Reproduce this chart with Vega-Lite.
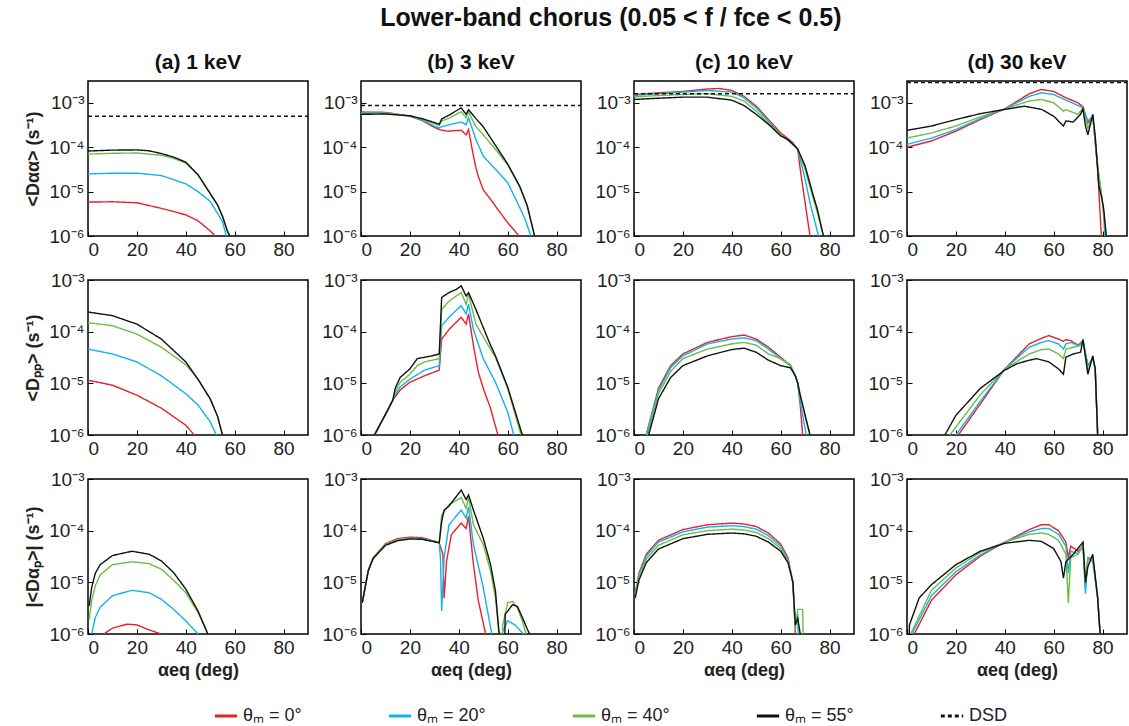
{
"$schema":"https://vega.github.io/schema/vega-lite/v6.json",
"padding":{"left":23,"top":6,"right":0,"bottom":0},
"title":{"text":"Lower-band chorus (0.05 <  f / fce <  0.5)","font":"Liberation Sans Narrow, Liberation Sans","fontSize":25,"fontWeight":"bold","anchor":"middle","offset":20,"dx":35},
"config":{
 "view":{"stroke":"#000","strokeWidth":1.5},
 "font":"Liberation Sans",
 "axis":{"grid":false,"domain":false,"tickColor":"#000","tickSize":-5,"tickWidth":1,"labelFont":"Liberation Sans","labelFontSize":19,"labelColor":"#222","labelPadding":9,"titleFont":"Liberation Sans","titleFontSize":18,"titleFontWeight":"bold","titleColor":"#222"},
 "title":{"font":"Liberation Sans Narrow, Liberation Sans","fontSize":21,"fontWeight":"bold","color":"#111","offset":8}
},
"datasets":{
"a1":[
{"s":"0","x":0,"y":5.8e-6},{"s":"0","x":10,"y":5.9e-6},{"s":"0","x":20,"y":5.6e-6},{"s":"0","x":30,"y":4.2e-6},{"s":"0","x":40,"y":3e-6},{"s":"0","x":45,"y":2.2e-6},{"s":"0","x":50,"y":1.3e-6},{"s":"0","x":52,"y":1e-6},{"s":"0","x":53,"y":1e-7},
{"s":"20","x":0,"y":2.5e-5},{"s":"20","x":10,"y":2.6e-5},{"s":"20","x":20,"y":2.6e-5},{"s":"20","x":30,"y":2.3e-5},{"s":"20","x":40,"y":1.5e-5},{"s":"20","x":45,"y":1e-5},{"s":"20","x":50,"y":6e-6},{"s":"20","x":52.5,"y":3.6e-6},{"s":"20","x":55,"y":2.1e-6},{"s":"20","x":56.6,"y":1e-6},{"s":"20","x":57.5,"y":1e-7},
{"s":"40","x":0,"y":7e-5},{"s":"40","x":10,"y":7.3e-5},{"s":"40","x":20,"y":7.4e-5},{"s":"40","x":30,"y":6.6e-5},{"s":"40","x":35,"y":5.6e-5},{"s":"40","x":40,"y":4.4e-5},{"s":"40","x":45,"y":2.4e-5},{"s":"40","x":50,"y":9e-6},{"s":"40","x":53,"y":5e-6},{"s":"40","x":55,"y":2.8e-6},{"s":"40","x":57,"y":1.3e-6},{"s":"40","x":58,"y":1e-6},{"s":"40","x":58.5,"y":1e-7},
{"s":"55","x":0,"y":8.2e-5},{"s":"55","x":10,"y":8.6e-5},{"s":"55","x":20,"y":8.7e-5},{"s":"55","x":25,"y":8.3e-5},{"s":"55","x":30,"y":7.2e-5},{"s":"55","x":35,"y":6e-5},{"s":"55","x":40,"y":4.6e-5},{"s":"55","x":45,"y":2.4e-5},{"s":"55","x":50,"y":9e-6},{"s":"55","x":53,"y":5e-6},{"s":"55","x":55,"y":2.8e-6},{"s":"55","x":57,"y":1.3e-6},{"s":"55","x":58,"y":1e-6},{"s":"55","x":58.5,"y":1e-7},
{"s":"D","x":0,"y":5e-4},{"s":"D","x":90,"y":5e-4}],
"b1":[
{"s":"0","x":0,"y":6.2e-4},{"s":"0","x":10,"y":6.1e-4},{"s":"0","x":20,"y":5e-4},{"s":"0","x":25,"y":4e-4},{"s":"0","x":30,"y":2.8e-4},{"s":"0","x":32,"y":2.5e-4},{"s":"0","x":35,"y":2.3e-4},{"s":"0","x":41,"y":2.4e-4},{"s":"0","x":43,"y":1.9e-4},{"s":"0","x":44,"y":2.5e-4},{"s":"0","x":46,"y":6.3e-5},{"s":"0","x":47,"y":3.5e-5},{"s":"0","x":48,"y":2.2e-5},{"s":"0","x":50,"y":1.1e-5},{"s":"0","x":53,"y":6.7e-6},{"s":"0","x":55,"y":4.7e-6},{"s":"0","x":58,"y":2.8e-6},{"s":"0","x":60,"y":2e-6},{"s":"0","x":63,"y":1.3e-6},{"s":"0","x":64.5,"y":1e-6},{"s":"0","x":65.5,"y":1e-7},
{"s":"20","x":0,"y":5.9e-4},{"s":"20","x":10,"y":5.9e-4},{"s":"20","x":20,"y":5e-4},{"s":"20","x":25,"y":4.1e-4},{"s":"20","x":30,"y":3e-4},{"s":"20","x":32,"y":2.7e-4},{"s":"20","x":33,"y":2.9e-4},{"s":"20","x":36,"y":3.2e-4},{"s":"20","x":41,"y":3.7e-4},{"s":"20","x":43,"y":3.2e-4},{"s":"20","x":44,"y":4.6e-4},{"s":"20","x":47,"y":1.5e-4},{"s":"20","x":50,"y":6.3e-5},{"s":"20","x":55,"y":3.2e-5},{"s":"20","x":60,"y":1.6e-5},{"s":"20","x":64,"y":5.6e-6},{"s":"20","x":67,"y":2.5e-6},{"s":"20","x":69.5,"y":1e-6},{"s":"20","x":70.5,"y":1e-7},
{"s":"40","x":0,"y":5.7e-4},{"s":"40","x":10,"y":5.8e-4},{"s":"40","x":20,"y":5.1e-4},{"s":"40","x":25,"y":4.3e-4},{"s":"40","x":30,"y":3.4e-4},{"s":"40","x":32,"y":3.1e-4},{"s":"40","x":33,"y":3.9e-4},{"s":"40","x":36,"y":4.5e-4},{"s":"40","x":41,"y":6.3e-4},{"s":"40","x":43,"y":4.6e-4},{"s":"40","x":44,"y":6.2e-4},{"s":"40","x":47,"y":2.9e-4},{"s":"40","x":50,"y":1.9e-4},{"s":"40","x":55,"y":9e-5},{"s":"40","x":60,"y":4e-5},{"s":"40","x":65,"y":1.25e-5},{"s":"40","x":68,"y":4.8e-6},{"s":"40","x":70,"y":1.7e-6},{"s":"40","x":71,"y":1e-6},{"s":"40","x":71.5,"y":1e-7},
{"s":"55","x":0,"y":5.5e-4},{"s":"55","x":10,"y":5.6e-4},{"s":"55","x":20,"y":5.1e-4},{"s":"55","x":25,"y":4.4e-4},{"s":"55","x":30,"y":3.6e-4},{"s":"55","x":32,"y":3.3e-4},{"s":"55","x":33,"y":4.3e-4},{"s":"55","x":36,"y":5.3e-4},{"s":"55","x":41,"y":7.7e-4},{"s":"55","x":43,"y":5.5e-4},{"s":"55","x":44,"y":7e-4},{"s":"55","x":47,"y":4.4e-4},{"s":"55","x":50,"y":2.9e-4},{"s":"55","x":55,"y":1.1e-4},{"s":"55","x":60,"y":4.2e-5},{"s":"55","x":65,"y":1.3e-5},{"s":"55","x":68,"y":4.8e-6},{"s":"55","x":70,"y":1.7e-6},{"s":"55","x":71,"y":1e-6},{"s":"55","x":71.5,"y":1e-7},
{"s":"D","x":0,"y":8.7e-4},{"s":"D","x":90,"y":8.7e-4}],
"c1":[
{"s":"0","x":0,"y":1.54e-3},{"s":"0","x":10,"y":1.68e-3},{"s":"0","x":20,"y":1.8e-3},{"s":"0","x":30,"y":2.05e-3},{"s":"0","x":35,"y":2.1e-3},{"s":"0","x":40,"y":1.9e-3},{"s":"0","x":45,"y":1.4e-3},{"s":"0","x":50,"y":8.4e-4},{"s":"0","x":55,"y":4.2e-4},{"s":"0","x":60,"y":2.1e-4},{"s":"0","x":65,"y":1.26e-4},{"s":"0","x":67,"y":9e-5},{"s":"0","x":68,"y":3.2e-5},{"s":"0","x":70,"y":5.6e-6},{"s":"0","x":72,"y":1e-6},{"s":"0","x":73,"y":1e-7},
{"s":"20","x":0,"y":1.46e-3},{"s":"20","x":10,"y":1.6e-3},{"s":"20","x":20,"y":1.74e-3},{"s":"20","x":30,"y":1.9e-3},{"s":"20","x":40,"y":1.74e-3},{"s":"20","x":45,"y":1.3e-3},{"s":"20","x":50,"y":7.7e-4},{"s":"20","x":55,"y":3.9e-4},{"s":"20","x":60,"y":1.9e-4},{"s":"20","x":65,"y":1.16e-4},{"s":"20","x":67,"y":9e-5},{"s":"20","x":70,"y":1.9e-5},{"s":"20","x":72,"y":5.6e-6},{"s":"20","x":75.5,"y":1e-6},{"s":"20","x":76.5,"y":1e-7},
{"s":"40","x":0,"y":1.36e-3},{"s":"40","x":10,"y":1.46e-3},{"s":"40","x":20,"y":1.54e-3},{"s":"40","x":30,"y":1.6e-3},{"s":"40","x":40,"y":1.4e-3},{"s":"40","x":45,"y":1.1e-3},{"s":"40","x":50,"y":6.5e-4},{"s":"40","x":55,"y":3.5e-4},{"s":"40","x":60,"y":1.9e-4},{"s":"40","x":65,"y":1.2e-4},{"s":"40","x":67,"y":9e-5},{"s":"40","x":70,"y":3.2e-5},{"s":"40","x":73,"y":8e-6},{"s":"40","x":75,"y":3.4e-6},{"s":"40","x":77.5,"y":1e-6},{"s":"40","x":78.5,"y":1e-7},
{"s":"55","x":0,"y":1.19e-3},{"s":"55","x":10,"y":1.27e-3},{"s":"55","x":20,"y":1.34e-3},{"s":"55","x":30,"y":1.34e-3},{"s":"55","x":40,"y":1.15e-3},{"s":"55","x":45,"y":8.7e-4},{"s":"55","x":50,"y":5.5e-4},{"s":"55","x":55,"y":3.3e-4},{"s":"55","x":60,"y":1.8e-4},{"s":"55","x":63,"y":1.5e-4},{"s":"55","x":65,"y":1.16e-4},{"s":"55","x":67,"y":9e-5},{"s":"55","x":70,"y":3.8e-5},{"s":"55","x":73,"y":9.5e-6},{"s":"55","x":75,"y":4e-6},{"s":"55","x":77.5,"y":1e-6},{"s":"55","x":78.5,"y":1e-7},
{"s":"D","x":0,"y":1.6e-3},{"s":"D","x":90,"y":1.6e-3}],
"d1":[
{"s":"0","x":0,"y":1e-4},{"s":"0","x":10,"y":1.38e-4},{"s":"0","x":20,"y":2.3e-4},{"s":"0","x":30,"y":4.2e-4},{"s":"0","x":40,"y":7.3e-4},{"s":"0","x":50,"y":1.6e-3},{"s":"0","x":55,"y":2e-3},{"s":"0","x":60,"y":1.8e-3},{"s":"0","x":65,"y":1.3e-3},{"s":"0","x":70,"y":1e-3},{"s":"0","x":72,"y":8.1e-4},{"s":"0","x":74,"y":3.5e-4},{"s":"0","x":76,"y":5e-4},{"s":"0","x":78,"y":3.2e-5},{"s":"0","x":79.5,"y":1e-6},{"s":"0","x":80,"y":1e-7},
{"s":"20","x":0,"y":1.16e-4},{"s":"20","x":10,"y":1.6e-4},{"s":"20","x":20,"y":2.5e-4},{"s":"20","x":30,"y":4.4e-4},{"s":"20","x":40,"y":7.3e-4},{"s":"20","x":50,"y":1.4e-3},{"s":"20","x":55,"y":1.68e-3},{"s":"20","x":60,"y":1.54e-3},{"s":"20","x":65,"y":1.15e-3},{"s":"20","x":70,"y":8.7e-4},{"s":"20","x":72,"y":7.7e-4},{"s":"20","x":74,"y":3.9e-4},{"s":"20","x":76,"y":5e-4},{"s":"20","x":78,"y":3.8e-5},{"s":"20","x":80,"y":5.6e-6},{"s":"20","x":81,"y":1e-6},{"s":"20","x":81.5,"y":1e-7},
{"s":"40","x":0,"y":1.6e-4},{"s":"40","x":10,"y":2.1e-4},{"s":"40","x":20,"y":3e-4},{"s":"40","x":30,"y":4.8e-4},{"s":"40","x":40,"y":7.3e-4},{"s":"40","x":50,"y":1.1e-3},{"s":"40","x":55,"y":1.19e-3},{"s":"40","x":60,"y":1e-3},{"s":"40","x":64,"y":6.5e-4},{"s":"40","x":65,"y":7e-4},{"s":"40","x":70,"y":5.5e-4},{"s":"40","x":72,"y":7.7e-4},{"s":"40","x":74,"y":2.7e-4},{"s":"40","x":76,"y":5e-4},{"s":"40","x":78,"y":3.8e-5},{"s":"40","x":80,"y":5.6e-6},{"s":"40","x":81.5,"y":1e-6},{"s":"40","x":82,"y":1e-7},
{"s":"55","x":0,"y":2.4e-4},{"s":"55","x":10,"y":3e-4},{"s":"55","x":20,"y":4.2e-4},{"s":"55","x":30,"y":5.7e-4},{"s":"55","x":40,"y":7.1e-4},{"s":"55","x":48,"y":8.4e-4},{"s":"55","x":55,"y":7.1e-4},{"s":"55","x":60,"y":5e-4},{"s":"55","x":64,"y":3e-4},{"s":"55","x":65,"y":3.9e-4},{"s":"55","x":68,"y":3.7e-4},{"s":"55","x":71,"y":5.5e-4},{"s":"55","x":72,"y":7.3e-4},{"s":"55","x":73,"y":3e-4},{"s":"55","x":74,"y":1.9e-4},{"s":"55","x":76,"y":5.5e-4},{"s":"55","x":77,"y":1.8e-4},{"s":"55","x":78.5,"y":1.3e-5},{"s":"55","x":79.5,"y":8e-6},{"s":"55","x":80.5,"y":4e-6},{"s":"55","x":81.5,"y":1e-6},{"s":"55","x":82,"y":1e-7},
{"s":"D","x":0,"y":2.85e-3},{"s":"D","x":90,"y":2.85e-3}],
"a2":[
{"s":"0","x":0,"y":1.15e-5},{"s":"0","x":10,"y":9.2e-6},{"s":"0","x":20,"y":5.9e-6},{"s":"0","x":30,"y":3.3e-6},{"s":"0","x":40,"y":1.55e-6},{"s":"0","x":43.5,"y":1e-6},{"s":"0","x":44.5,"y":1e-7},
{"s":"20","x":0,"y":4.6e-5},{"s":"20","x":10,"y":3.7e-5},{"s":"20","x":20,"y":2.6e-5},{"s":"20","x":30,"y":1.4e-5},{"s":"20","x":40,"y":6.3e-6},{"s":"20","x":45,"y":3.8e-6},{"s":"20","x":50,"y":1.8e-6},{"s":"20","x":52.5,"y":1e-6},{"s":"20","x":53.2,"y":1e-7},
{"s":"40","x":0,"y":1.5e-4},{"s":"40","x":10,"y":1.3e-4},{"s":"40","x":20,"y":9e-5},{"s":"40","x":30,"y":5e-5},{"s":"40","x":40,"y":2.3e-5},{"s":"40","x":45,"y":1.2e-5},{"s":"40","x":50,"y":5e-6},{"s":"40","x":53,"y":2.3e-6},{"s":"40","x":55,"y":1e-6},{"s":"40","x":55.5,"y":1e-7},
{"s":"55","x":0,"y":2.4e-4},{"s":"55","x":10,"y":2.04e-4},{"s":"55","x":20,"y":1.4e-4},{"s":"55","x":30,"y":7.2e-5},{"s":"55","x":40,"y":2.6e-5},{"s":"55","x":45,"y":1.2e-5},{"s":"55","x":50,"y":5e-6},{"s":"55","x":53,"y":2.3e-6},{"s":"55","x":55,"y":1e-6},{"s":"55","x":55.5,"y":1e-7}],
"b2":[
{"s":"0","x":5,"y":1e-7},{"s":"0","x":5.5,"y":1e-6},{"s":"0","x":10,"y":2.5e-6},{"s":"0","x":13,"y":4.7e-6},{"s":"0","x":14,"y":5.5e-6},{"s":"0","x":16,"y":7.4e-6},{"s":"0","x":20,"y":1.05e-5},{"s":"0","x":26,"y":1.4e-5},{"s":"0","x":32,"y":1.8e-5},{"s":"0","x":33,"y":7.2e-5},{"s":"0","x":36,"y":1.1e-4},{"s":"0","x":41,"y":1.9e-4},{"s":"0","x":43,"y":1.4e-4},{"s":"0","x":44,"y":2.2e-4},{"s":"0","x":46,"y":5.4e-5},{"s":"0","x":48,"y":1.65e-5},{"s":"0","x":50,"y":8e-6},{"s":"0","x":53,"y":3.3e-6},{"s":"0","x":56,"y":1e-6},{"s":"0","x":56.5,"y":1e-7},
{"s":"20","x":5,"y":1e-7},{"s":"20","x":5.5,"y":1e-6},{"s":"20","x":10,"y":2.5e-6},{"s":"20","x":13,"y":4.7e-6},{"s":"20","x":14,"y":6e-6},{"s":"20","x":16,"y":8.5e-6},{"s":"20","x":20,"y":1.2e-5},{"s":"20","x":26,"y":1.8e-5},{"s":"20","x":32,"y":2.2e-5},{"s":"20","x":33,"y":1.3e-4},{"s":"20","x":36,"y":1.9e-4},{"s":"20","x":41,"y":3.2e-4},{"s":"20","x":43,"y":2.2e-4},{"s":"20","x":44,"y":3.4e-4},{"s":"20","x":46,"y":1.1e-4},{"s":"20","x":50,"y":3e-5},{"s":"20","x":55,"y":1.05e-5},{"s":"20","x":60,"y":2.8e-6},{"s":"20","x":62.5,"y":1e-6},{"s":"20","x":63,"y":1e-7},
{"s":"40","x":5,"y":1e-7},{"s":"40","x":5.5,"y":1e-6},{"s":"40","x":10,"y":2.5e-6},{"s":"40","x":13,"y":4.7e-6},{"s":"40","x":14,"y":6.8e-6},{"s":"40","x":16,"y":1.05e-5},{"s":"40","x":20,"y":1.5e-5},{"s":"40","x":23,"y":2.2e-5},{"s":"40","x":26,"y":2.6e-5},{"s":"40","x":29,"y":2.8e-5},{"s":"40","x":32,"y":3e-5},{"s":"40","x":33,"y":2.7e-4},{"s":"40","x":36,"y":3.9e-4},{"s":"40","x":41,"y":5.7e-4},{"s":"40","x":43,"y":3.4e-4},{"s":"40","x":44,"y":5.3e-4},{"s":"40","x":47,"y":1.4e-4},{"s":"40","x":52.5,"y":5e-5},{"s":"40","x":55,"y":3.2e-5},{"s":"40","x":60,"y":8e-6},{"s":"40","x":65,"y":1.2e-6},{"s":"40","x":65.5,"y":1e-6},{"s":"40","x":66,"y":1e-7},
{"s":"55","x":5,"y":1e-7},{"s":"55","x":5.5,"y":1e-6},{"s":"55","x":10,"y":2.5e-6},{"s":"55","x":13,"y":4.7e-6},{"s":"55","x":14,"y":8e-6},{"s":"55","x":16,"y":1.3e-5},{"s":"55","x":20,"y":1.9e-5},{"s":"55","x":23,"y":3e-5},{"s":"55","x":26,"y":3.2e-5},{"s":"55","x":29,"y":3.4e-5},{"s":"55","x":32,"y":3.7e-5},{"s":"55","x":33,"y":4.6e-4},{"s":"55","x":36,"y":5.7e-4},{"s":"55","x":39,"y":6.6e-4},{"s":"55","x":41,"y":7.7e-4},{"s":"55","x":43,"y":4.9e-4},{"s":"55","x":44,"y":5.7e-4},{"s":"55","x":47,"y":2.7e-4},{"s":"55","x":52.5,"y":6.2e-5},{"s":"55","x":55,"y":3.4e-5},{"s":"55","x":60,"y":8.5e-6},{"s":"55","x":66,"y":1e-6},{"s":"55","x":66.5,"y":1e-7}],
"c2":[
{"s":"0","x":4.5,"y":1e-7},{"s":"0","x":5,"y":1e-6},{"s":"0","x":10,"y":8e-6},{"s":"0","x":15,"y":2.2e-5},{"s":"0","x":20,"y":3.7e-5},{"s":"0","x":30,"y":6.2e-5},{"s":"0","x":40,"y":8e-5},{"s":"0","x":45,"y":8.6e-5},{"s":"0","x":50,"y":7.2e-5},{"s":"0","x":55,"y":5e-5},{"s":"0","x":60,"y":3.2e-5},{"s":"0","x":64,"y":2.2e-5},{"s":"0","x":66,"y":1.4e-5},{"s":"0","x":67,"y":1e-5},{"s":"0","x":68,"y":3.8e-6},{"s":"0","x":69,"y":1e-6},{"s":"0","x":69.5,"y":1e-7},
{"s":"20","x":4.5,"y":1e-7},{"s":"20","x":5,"y":1e-6},{"s":"20","x":10,"y":7.3e-6},{"s":"20","x":15,"y":2e-5},{"s":"20","x":20,"y":3.4e-5},{"s":"20","x":30,"y":5.8e-5},{"s":"20","x":40,"y":7.2e-5},{"s":"20","x":45,"y":7.6e-5},{"s":"20","x":50,"y":6.7e-5},{"s":"20","x":55,"y":4.6e-5},{"s":"20","x":60,"y":3e-5},{"s":"20","x":64,"y":2.2e-5},{"s":"20","x":66,"y":1.4e-5},{"s":"20","x":67,"y":1e-5},{"s":"20","x":68,"y":4.4e-6},{"s":"20","x":70.5,"y":1e-6},{"s":"20","x":71,"y":1e-7},
{"s":"40","x":5,"y":1e-7},{"s":"40","x":5.5,"y":1e-6},{"s":"40","x":10,"y":6.3e-6},{"s":"40","x":15,"y":1.7e-5},{"s":"40","x":20,"y":3e-5},{"s":"40","x":30,"y":4.6e-5},{"s":"40","x":40,"y":5.8e-5},{"s":"40","x":45,"y":6.2e-5},{"s":"40","x":50,"y":5.5e-5},{"s":"40","x":55,"y":3.7e-5},{"s":"40","x":60,"y":3e-5},{"s":"40","x":64,"y":2.3e-5},{"s":"40","x":66,"y":1.4e-5},{"s":"40","x":67,"y":1e-5},{"s":"40","x":68,"y":5.9e-6},{"s":"40","x":70,"y":2.4e-6},{"s":"40","x":72,"y":1e-6},{"s":"40","x":72.5,"y":1e-7},
{"s":"55","x":5.5,"y":1e-7},{"s":"55","x":6,"y":1e-6},{"s":"55","x":10,"y":5e-6},{"s":"55","x":15,"y":1.3e-5},{"s":"55","x":20,"y":2.2e-5},{"s":"55","x":30,"y":3.4e-5},{"s":"55","x":40,"y":4.5e-5},{"s":"55","x":45,"y":4.8e-5},{"s":"55","x":50,"y":4e-5},{"s":"55","x":55,"y":2.8e-5},{"s":"55","x":60,"y":2.2e-5},{"s":"55","x":64,"y":2e-5},{"s":"55","x":66,"y":1.4e-5},{"s":"55","x":67,"y":1e-5},{"s":"55","x":68,"y":5.9e-6},{"s":"55","x":70,"y":2.4e-6},{"s":"55","x":72,"y":1e-6},{"s":"55","x":72.5,"y":1e-7}],
"d2":[
{"s":"0","x":20.5,"y":1e-7},{"s":"0","x":21,"y":1e-6},{"s":"0","x":30,"y":4e-6},{"s":"0","x":40,"y":1.9e-5},{"s":"0","x":50,"y":5.8e-5},{"s":"0","x":55,"y":7.4e-5},{"s":"0","x":58,"y":8.4e-5},{"s":"0","x":62,"y":7.2e-5},{"s":"0","x":64,"y":6.5e-5},{"s":"0","x":65,"y":7e-5},{"s":"0","x":67,"y":6.7e-5},{"s":"0","x":70,"y":5.5e-5},{"s":"0","x":72,"y":6.7e-5},{"s":"0","x":74,"y":2.2e-5},{"s":"0","x":76,"y":3.1e-5},{"s":"0","x":77,"y":1.9e-5},{"s":"0","x":78,"y":1e-6},{"s":"0","x":78.3,"y":1e-7},
{"s":"20","x":19.5,"y":1e-7},{"s":"20","x":20,"y":1e-6},{"s":"20","x":30,"y":4.5e-6},{"s":"20","x":40,"y":1.9e-5},{"s":"20","x":50,"y":5e-5},{"s":"20","x":55,"y":6.2e-5},{"s":"20","x":58,"y":6.7e-5},{"s":"20","x":62,"y":5.8e-5},{"s":"20","x":64,"y":4.6e-5},{"s":"20","x":65,"y":5.8e-5},{"s":"20","x":67,"y":6.2e-5},{"s":"20","x":70,"y":5.4e-5},{"s":"20","x":72,"y":6.7e-5},{"s":"20","x":74,"y":2.2e-5},{"s":"20","x":76,"y":3.1e-5},{"s":"20","x":77,"y":1.9e-5},{"s":"20","x":78,"y":1e-6},{"s":"20","x":78.3,"y":1e-7},
{"s":"40","x":17,"y":1e-7},{"s":"40","x":17.5,"y":1e-6},{"s":"40","x":30,"y":6e-6},{"s":"40","x":40,"y":1.9e-5},{"s":"40","x":50,"y":3.7e-5},{"s":"40","x":55,"y":4.5e-5},{"s":"40","x":58,"y":4.6e-5},{"s":"40","x":62,"y":3.7e-5},{"s":"40","x":64,"y":3e-5},{"s":"40","x":65,"y":4.6e-5},{"s":"40","x":68,"y":5e-5},{"s":"40","x":71,"y":5.4e-5},{"s":"40","x":72,"y":6.8e-5},{"s":"40","x":74,"y":1.7e-5},{"s":"40","x":76,"y":3.2e-5},{"s":"40","x":77,"y":1.9e-5},{"s":"40","x":78,"y":1e-6},{"s":"40","x":78.3,"y":1e-7},
{"s":"55","x":15,"y":1e-7},{"s":"55","x":15.5,"y":1e-6},{"s":"55","x":20,"y":2.4e-6},{"s":"55","x":30,"y":8e-6},{"s":"55","x":40,"y":1.8e-5},{"s":"55","x":45,"y":2.4e-5},{"s":"55","x":50,"y":2.8e-5},{"s":"55","x":53,"y":3e-5},{"s":"55","x":58,"y":2.6e-5},{"s":"55","x":62,"y":1.9e-5},{"s":"55","x":64,"y":1.5e-5},{"s":"55","x":65,"y":3.2e-5},{"s":"55","x":68,"y":3.7e-5},{"s":"55","x":71,"y":4e-5},{"s":"55","x":72,"y":7e-5},{"s":"55","x":74,"y":1.5e-5},{"s":"55","x":76,"y":3.4e-5},{"s":"55","x":77,"y":1.9e-5},{"s":"55","x":78,"y":1e-6},{"s":"55","x":78.3,"y":1e-7}],
"a3":[
{"s":"0","x":6,"y":1e-7},{"s":"0","x":6.5,"y":1e-6},{"s":"0","x":10,"y":1.3e-6},{"s":"0","x":16,"y":1.55e-6},{"s":"0","x":20,"y":1.5e-6},{"s":"0","x":25,"y":1.2e-6},{"s":"0","x":30,"y":1e-6},{"s":"0","x":30.5,"y":1e-7},
{"s":"20","x":1,"y":1e-7},{"s":"20","x":1.5,"y":1e-6},{"s":"20","x":3,"y":2.1e-6},{"s":"20","x":5,"y":3.3e-6},{"s":"20","x":10,"y":5.5e-6},{"s":"20","x":18,"y":7e-6},{"s":"20","x":25,"y":6.3e-6},{"s":"20","x":30,"y":4.7e-6},{"s":"20","x":35,"y":3e-6},{"s":"20","x":40,"y":1.8e-6},{"s":"20","x":45,"y":1e-6},{"s":"20","x":45.5,"y":1e-7},
{"s":"40","x":0.5,"y":1.9e-6},{"s":"40","x":1.5,"y":4.4e-6},{"s":"40","x":3,"y":8.6e-6},{"s":"40","x":5,"y":1.4e-5},{"s":"40","x":10,"y":2.2e-5},{"s":"40","x":18,"y":2.5e-5},{"s":"40","x":25,"y":2.3e-5},{"s":"40","x":30,"y":1.8e-5},{"s":"40","x":35,"y":1.1e-5},{"s":"40","x":40,"y":6.3e-6},{"s":"40","x":45,"y":2.6e-6},{"s":"40","x":48,"y":1.3e-6},{"s":"40","x":49,"y":1e-6},{"s":"40","x":49.5,"y":1e-7},
{"s":"55","x":0.5,"y":3.5e-6},{"s":"55","x":1.5,"y":8e-6},{"s":"55","x":3,"y":1.5e-5},{"s":"55","x":5,"y":2.2e-5},{"s":"55","x":10,"y":3.3e-5},{"s":"55","x":18,"y":4e-5},{"s":"55","x":25,"y":3.5e-5},{"s":"55","x":30,"y":2.6e-5},{"s":"55","x":35,"y":1.55e-5},{"s":"55","x":40,"y":7.4e-6},{"s":"55","x":45,"y":2.8e-6},{"s":"55","x":48,"y":1.3e-6},{"s":"55","x":49,"y":1e-6},{"s":"55","x":49.5,"y":1e-7}],
"b3":[
{"s":"0","x":0.5,"y":4e-6},{"s":"0","x":3,"y":1.7e-5},{"s":"0","x":5,"y":3e-5},{"s":"0","x":10,"y":5.6e-5},{"s":"0","x":15,"y":7e-5},{"s":"0","x":20,"y":7.5e-5},{"s":"0","x":25,"y":7.3e-5},{"s":"0","x":30,"y":6.3e-5},{"s":"0","x":32,"y":5.8e-5},{"s":"0","x":33.5,"y":3.5e-5},{"s":"0","x":34,"y":5e-6},{"s":"0","x":35,"y":2.6e-5},{"s":"0","x":37,"y":8.4e-5},{"s":"0","x":41,"y":1.4e-4},{"s":"0","x":43,"y":1.1e-4},{"s":"0","x":44,"y":1.9e-4},{"s":"0","x":46,"y":2.2e-5},{"s":"0","x":48,"y":4.4e-6},{"s":"0","x":51,"y":1e-6},{"s":"0","x":51.5,"y":1e-7},
{"s":"20","x":0.5,"y":4e-6},{"s":"20","x":3,"y":1.7e-5},{"s":"20","x":5,"y":3e-5},{"s":"20","x":10,"y":5.4e-5},{"s":"20","x":15,"y":6.7e-5},{"s":"20","x":20,"y":7.2e-5},{"s":"20","x":25,"y":7e-5},{"s":"20","x":30,"y":6.2e-5},{"s":"20","x":32,"y":5.8e-5},{"s":"20","x":32.5,"y":3e-5},{"s":"20","x":33,"y":2.8e-6},{"s":"20","x":34,"y":3e-5},{"s":"20","x":36,"y":1.3e-4},{"s":"20","x":41,"y":2.5e-4},{"s":"20","x":43,"y":1.75e-4},{"s":"20","x":44,"y":2.9e-4},{"s":"20","x":46,"y":5.4e-5},{"s":"20","x":50,"y":8e-6},{"s":"20","x":53.5,"y":1e-6},{"s":"20","x":54,"y":1e-7},{"s":"20","x":57,"y":1e-7},{"s":"20","x":57.5,"y":1e-6},{"s":"20","x":60,"y":1.8e-6},{"s":"20","x":63,"y":1.5e-6},{"s":"20","x":66.5,"y":1e-6},{"s":"20","x":67,"y":1e-7},
{"s":"40","x":0.5,"y":4e-6},{"s":"40","x":3,"y":1.7e-5},{"s":"40","x":5,"y":3e-5},{"s":"40","x":10,"y":5.4e-5},{"s":"40","x":15,"y":6.6e-5},{"s":"40","x":20,"y":7.1e-5},{"s":"40","x":25,"y":6.9e-5},{"s":"40","x":30,"y":6.2e-5},{"s":"40","x":32,"y":5.8e-5},{"s":"40","x":33,"y":2e-4},{"s":"40","x":36,"y":3.2e-4},{"s":"40","x":41,"y":4.4e-4},{"s":"40","x":43,"y":2.7e-4},{"s":"40","x":44,"y":4.4e-4},{"s":"40","x":46,"y":1.3e-4},{"s":"40","x":50,"y":5.4e-5},{"s":"40","x":53,"y":1.65e-5},{"s":"40","x":55,"y":5e-6},{"s":"40","x":56.5,"y":1e-6},{"s":"40","x":57,"y":1e-7},{"s":"40","x":57.5,"y":1e-7},{"s":"40","x":58,"y":1.5e-6},{"s":"40","x":60,"y":4e-6},{"s":"40","x":62,"y":4.3e-6},{"s":"40","x":64,"y":3.2e-6},{"s":"40","x":66,"y":1.8e-6},{"s":"40","x":67.5,"y":1e-6},{"s":"40","x":68,"y":1e-7},
{"s":"55","x":0.5,"y":4e-6},{"s":"55","x":3,"y":1.7e-5},{"s":"55","x":5,"y":2.9e-5},{"s":"55","x":10,"y":5.2e-5},{"s":"55","x":15,"y":6.4e-5},{"s":"55","x":20,"y":6.9e-5},{"s":"55","x":25,"y":6.8e-5},{"s":"55","x":30,"y":6.1e-5},{"s":"55","x":32,"y":5.8e-5},{"s":"55","x":33,"y":1.5e-4},{"s":"55","x":34,"y":2.5e-4},{"s":"55","x":36,"y":3e-4},{"s":"55","x":41,"y":6.1e-4},{"s":"55","x":43,"y":4e-4},{"s":"55","x":44,"y":4.9e-4},{"s":"55","x":46,"y":2.5e-4},{"s":"55","x":50,"y":7.2e-5},{"s":"55","x":53,"y":2.2e-5},{"s":"55","x":55,"y":6.8e-6},{"s":"55","x":56.5,"y":1e-6},{"s":"55","x":57,"y":1e-7},{"s":"55","x":58.5,"y":1e-7},{"s":"55","x":59,"y":2.4e-6},{"s":"55","x":62,"y":3.7e-6},{"s":"55","x":64,"y":3.4e-6},{"s":"55","x":66,"y":2.1e-6},{"s":"55","x":68,"y":1.25e-6},{"s":"55","x":69,"y":1e-6},{"s":"55","x":69.5,"y":1e-7}],
"c3":[
{"s":"0","x":0.5,"y":6e-6},{"s":"0","x":2,"y":1.5e-5},{"s":"0","x":5,"y":3.5e-5},{"s":"0","x":10,"y":6.5e-5},{"s":"0","x":20,"y":1.05e-4},{"s":"0","x":30,"y":1.3e-4},{"s":"0","x":40,"y":1.4e-4},{"s":"0","x":45,"y":1.35e-4},{"s":"0","x":50,"y":1.2e-4},{"s":"0","x":55,"y":9e-5},{"s":"0","x":60,"y":5.5e-5},{"s":"0","x":63,"y":3e-5},{"s":"0","x":65,"y":1e-5},{"s":"0","x":66,"y":1e-6},{"s":"0","x":66.5,"y":1e-7},
{"s":"20","x":0.5,"y":6e-6},{"s":"20","x":2,"y":1.4e-5},{"s":"20","x":5,"y":3.2e-5},{"s":"20","x":10,"y":6e-5},{"s":"20","x":20,"y":9.5e-5},{"s":"20","x":30,"y":1.17e-4},{"s":"20","x":40,"y":1.25e-4},{"s":"20","x":45,"y":1.2e-4},{"s":"20","x":50,"y":1.07e-4},{"s":"20","x":55,"y":8e-5},{"s":"20","x":60,"y":5e-5},{"s":"20","x":63,"y":2.8e-5},{"s":"20","x":65,"y":1e-5},{"s":"20","x":66,"y":1.5e-6},{"s":"20","x":67,"y":2.5e-6},{"s":"20","x":67.5,"y":1e-7},
{"s":"40","x":0.5,"y":6e-6},{"s":"40","x":2,"y":1.3e-5},{"s":"40","x":5,"y":2.8e-5},{"s":"40","x":10,"y":5.2e-5},{"s":"40","x":20,"y":8.3e-5},{"s":"40","x":30,"y":1e-4},{"s":"40","x":40,"y":1.07e-4},{"s":"40","x":45,"y":1.03e-4},{"s":"40","x":50,"y":9.2e-5},{"s":"40","x":55,"y":7e-5},{"s":"40","x":60,"y":4.5e-5},{"s":"40","x":63,"y":2.6e-5},{"s":"40","x":65,"y":1e-5},{"s":"40","x":66,"y":1.2e-6},{"s":"40","x":67,"y":3e-6},{"s":"40","x":69,"y":3e-6},{"s":"40","x":69.5,"y":1e-7},
{"s":"55","x":0.5,"y":5e-6},{"s":"55","x":2,"y":1.1e-5},{"s":"55","x":5,"y":2.4e-5},{"s":"55","x":10,"y":4.4e-5},{"s":"55","x":20,"y":7e-5},{"s":"55","x":30,"y":8.5e-5},{"s":"55","x":40,"y":9e-5},{"s":"55","x":45,"y":8.7e-5},{"s":"55","x":50,"y":7.8e-5},{"s":"55","x":55,"y":6e-5},{"s":"55","x":60,"y":4e-5},{"s":"55","x":63,"y":2.4e-5},{"s":"55","x":65,"y":1e-5},{"s":"55","x":66,"y":1.5e-6},{"s":"55","x":67,"y":2e-6},{"s":"55","x":68,"y":1e-6},{"s":"55","x":68.5,"y":1e-7}],
"d3":[
{"s":"0","x":2.5,"y":1e-7},{"s":"0","x":3,"y":1e-6},{"s":"0","x":10,"y":4.5e-6},{"s":"0","x":20,"y":1.4e-5},{"s":"0","x":30,"y":3.2e-5},{"s":"0","x":40,"y":6e-5},{"s":"0","x":50,"y":1.05e-4},{"s":"0","x":55,"y":1.3e-4},{"s":"0","x":58,"y":1.3e-4},{"s":"0","x":62,"y":1e-4},{"s":"0","x":65,"y":6e-5},{"s":"0","x":66,"y":3e-5},{"s":"0","x":67,"y":5e-5},{"s":"0","x":70,"y":4e-5},{"s":"0","x":72,"y":5e-5},{"s":"0","x":73,"y":8e-6},{"s":"0","x":74,"y":3e-5},{"s":"0","x":76,"y":3e-5},{"s":"0","x":78,"y":5e-6},{"s":"0","x":79,"y":1e-6},{"s":"0","x":79.5,"y":1e-7},
{"s":"20","x":1.5,"y":1e-7},{"s":"20","x":2,"y":1e-6},{"s":"20","x":10,"y":5.5e-6},{"s":"20","x":20,"y":1.6e-5},{"s":"20","x":30,"y":3.4e-5},{"s":"20","x":40,"y":6e-5},{"s":"20","x":50,"y":9.5e-5},{"s":"20","x":55,"y":1.1e-4},{"s":"20","x":58,"y":1.1e-4},{"s":"20","x":62,"y":8.5e-5},{"s":"20","x":65,"y":5e-5},{"s":"20","x":66,"y":1.5e-5},{"s":"20","x":67,"y":4e-5},{"s":"20","x":70,"y":3.6e-5},{"s":"20","x":72,"y":5e-5},{"s":"20","x":73,"y":6e-6},{"s":"20","x":74,"y":3e-5},{"s":"20","x":76,"y":2.5e-5},{"s":"20","x":78,"y":5e-6},{"s":"20","x":79,"y":1e-6},{"s":"20","x":79.5,"y":1e-7},
{"s":"40","x":1,"y":1e-7},{"s":"40","x":1.5,"y":1e-6},{"s":"40","x":10,"y":7e-6},{"s":"40","x":20,"y":1.9e-5},{"s":"40","x":30,"y":3.8e-5},{"s":"40","x":40,"y":6e-5},{"s":"40","x":50,"y":8.5e-5},{"s":"40","x":55,"y":9e-5},{"s":"40","x":58,"y":8.5e-5},{"s":"40","x":62,"y":6.5e-5},{"s":"40","x":65,"y":3.5e-5},{"s":"40","x":66,"y":4e-6},{"s":"40","x":67,"y":3e-5},{"s":"40","x":70,"y":3.5e-5},{"s":"40","x":72,"y":5.5e-5},{"s":"40","x":73,"y":1e-5},{"s":"40","x":74,"y":3e-5},{"s":"40","x":76,"y":3e-5},{"s":"40","x":78,"y":5e-6},{"s":"40","x":79,"y":1e-6},{"s":"40","x":79.5,"y":1e-7},
{"s":"55","x":0.5,"y":1e-7},{"s":"55","x":1,"y":1.5e-6},{"s":"55","x":5,"y":5e-6},{"s":"55","x":10,"y":9e-6},{"s":"55","x":20,"y":2.2e-5},{"s":"55","x":30,"y":4e-5},{"s":"55","x":40,"y":5.7e-5},{"s":"55","x":50,"y":6.5e-5},{"s":"55","x":55,"y":6.2e-5},{"s":"55","x":60,"y":4.5e-5},{"s":"55","x":63,"y":2.5e-5},{"s":"55","x":64,"y":1.2e-5},{"s":"55","x":65,"y":2.5e-5},{"s":"55","x":68,"y":3.5e-5},{"s":"55","x":72,"y":6e-5},{"s":"55","x":73,"y":1e-5},{"s":"55","x":74,"y":2e-5},{"s":"55","x":76,"y":3.5e-5},{"s":"55","x":78,"y":5e-6},{"s":"55","x":79,"y":1e-6},{"s":"55","x":79.5,"y":1e-7}]
},
"columns":4,
"spacing":{"row":44,"column":53},
"bounds":"flush",
"concat":[
 {"title":"(a) 1 keV","width":220,"height":155,"data":{"name":"a1"},"mark":{"type":"line","clip":true,"strokeWidth":1.4},"encoding":{"x":{"field":"x","type":"quantitative","scale":{"domain":[0,90]},"axis":{"values":[0,20,40,60,80],"title":null}},"y":{"field":"y","type":"quantitative","scale":{"type":"log","domain":[1e-6,3.1e-3]},"axis":{"values":[1e-6,1e-5,1e-4,1e-3],"labelExpr":"datum.value > 5e-4 ? '10⁻³' : datum.value > 5e-5 ? '10⁻⁴' : datum.value > 5e-6 ? '10⁻⁵' : '10⁻⁶'","title":"<Dαα> (s⁻¹)","titlePadding":6}},"color":{"field":"s","type":"nominal","scale":{"domain":["0","20","40","55","D"],"range":["#e8202a","#13b2ea","#6dbb45","#111111","#111111"]},"legend":{"title":null,"orient":"none","legendX":125,"legendY":622,"direction":"horizontal","columns":5,"columnPadding":80,"symbolType":"stroke","symbolSize":500,"symbolStrokeWidth":3,"labelFont":"Liberation Sans Narrow, Liberation Sans","labelFontSize":18,"labelColor":"#222","labelExpr":"datum.label == 'D' ? 'DSD' : 'θₘ = ' + datum.label + '°'"}},"strokeDash":{"field":"s","type":"nominal","scale":{"domain":["0","20","40","55","D"],"range":[[1,0],[1,0],[1,0],[1,0],[4,3]]},"legend":{"title":null,"orient":"none","legendX":125,"legendY":622,"direction":"horizontal","columns":5,"columnPadding":80,"symbolType":"stroke","symbolSize":500,"symbolStrokeWidth":3,"labelFont":"Liberation Sans Narrow, Liberation Sans","labelFontSize":18,"labelColor":"#222","labelExpr":"datum.label == 'D' ? 'DSD' : 'θₘ = ' + datum.label + '°'"}}}},
 {"title":"(b) 3 keV","width":220,"height":155,"data":{"name":"b1"},"mark":{"type":"line","clip":true,"strokeWidth":1.4},"encoding":{"x":{"field":"x","type":"quantitative","scale":{"domain":[0,90]},"axis":{"values":[0,20,40,60,80],"title":null}},"y":{"field":"y","type":"quantitative","scale":{"type":"log","domain":[1e-6,3.1e-3]},"axis":{"values":[1e-6,1e-5,1e-4,1e-3],"labelExpr":"datum.value > 5e-4 ? '10⁻³' : datum.value > 5e-5 ? '10⁻⁴' : datum.value > 5e-6 ? '10⁻⁵' : '10⁻⁶'","title":null}},"color":{"field":"s","type":"nominal"},"strokeDash":{"field":"s","type":"nominal"}}},
 {"title":"(c) 10 keV","width":220,"height":155,"data":{"name":"c1"},"mark":{"type":"line","clip":true,"strokeWidth":1.4},"encoding":{"x":{"field":"x","type":"quantitative","scale":{"domain":[0,90]},"axis":{"values":[0,20,40,60,80],"title":null}},"y":{"field":"y","type":"quantitative","scale":{"type":"log","domain":[1e-6,3.1e-3]},"axis":{"values":[1e-6,1e-5,1e-4,1e-3],"labelExpr":"datum.value > 5e-4 ? '10⁻³' : datum.value > 5e-5 ? '10⁻⁴' : datum.value > 5e-6 ? '10⁻⁵' : '10⁻⁶'","title":null}},"color":{"field":"s","type":"nominal"},"strokeDash":{"field":"s","type":"nominal"}}},
 {"title":"(d) 30 keV","width":220,"height":155,"data":{"name":"d1"},"mark":{"type":"line","clip":true,"strokeWidth":1.4},"encoding":{"x":{"field":"x","type":"quantitative","scale":{"domain":[0,90]},"axis":{"values":[0,20,40,60,80],"title":null}},"y":{"field":"y","type":"quantitative","scale":{"type":"log","domain":[1e-6,3.1e-3]},"axis":{"values":[1e-6,1e-5,1e-4,1e-3],"labelExpr":"datum.value > 5e-4 ? '10⁻³' : datum.value > 5e-5 ? '10⁻⁴' : datum.value > 5e-6 ? '10⁻⁵' : '10⁻⁶'","title":null}},"color":{"field":"s","type":"nominal"},"strokeDash":{"field":"s","type":"nominal"}}},
 {"width":220,"height":155,"data":{"name":"a2"},"mark":{"type":"line","clip":true,"strokeWidth":1.4},"encoding":{"x":{"field":"x","type":"quantitative","scale":{"domain":[0,90]},"axis":{"values":[0,20,40,60,80],"title":null}},"y":{"field":"y","type":"quantitative","scale":{"type":"log","domain":[1e-6,1e-3]},"axis":{"values":[1e-6,1e-5,1e-4,1e-3],"labelExpr":"datum.value > 5e-4 ? '10⁻³' : datum.value > 5e-5 ? '10⁻⁴' : datum.value > 5e-6 ? '10⁻⁵' : '10⁻⁶'","title":"<Dₚₚ> (s⁻¹)","titlePadding":6}},"color":{"field":"s","type":"nominal"},"strokeDash":{"field":"s","type":"nominal"}}},
 {"width":220,"height":155,"data":{"name":"b2"},"mark":{"type":"line","clip":true,"strokeWidth":1.4},"encoding":{"x":{"field":"x","type":"quantitative","scale":{"domain":[0,90]},"axis":{"values":[0,20,40,60,80],"title":null}},"y":{"field":"y","type":"quantitative","scale":{"type":"log","domain":[1e-6,1e-3]},"axis":{"values":[1e-6,1e-5,1e-4,1e-3],"labelExpr":"datum.value > 5e-4 ? '10⁻³' : datum.value > 5e-5 ? '10⁻⁴' : datum.value > 5e-6 ? '10⁻⁵' : '10⁻⁶'","title":null}},"color":{"field":"s","type":"nominal"},"strokeDash":{"field":"s","type":"nominal"}}},
 {"width":220,"height":155,"data":{"name":"c2"},"mark":{"type":"line","clip":true,"strokeWidth":1.4},"encoding":{"x":{"field":"x","type":"quantitative","scale":{"domain":[0,90]},"axis":{"values":[0,20,40,60,80],"title":null}},"y":{"field":"y","type":"quantitative","scale":{"type":"log","domain":[1e-6,1e-3]},"axis":{"values":[1e-6,1e-5,1e-4,1e-3],"labelExpr":"datum.value > 5e-4 ? '10⁻³' : datum.value > 5e-5 ? '10⁻⁴' : datum.value > 5e-6 ? '10⁻⁵' : '10⁻⁶'","title":null}},"color":{"field":"s","type":"nominal"},"strokeDash":{"field":"s","type":"nominal"}}},
 {"width":220,"height":155,"data":{"name":"d2"},"mark":{"type":"line","clip":true,"strokeWidth":1.4},"encoding":{"x":{"field":"x","type":"quantitative","scale":{"domain":[0,90]},"axis":{"values":[0,20,40,60,80],"title":null}},"y":{"field":"y","type":"quantitative","scale":{"type":"log","domain":[1e-6,1e-3]},"axis":{"values":[1e-6,1e-5,1e-4,1e-3],"labelExpr":"datum.value > 5e-4 ? '10⁻³' : datum.value > 5e-5 ? '10⁻⁴' : datum.value > 5e-6 ? '10⁻⁵' : '10⁻⁶'","title":null}},"color":{"field":"s","type":"nominal"},"strokeDash":{"field":"s","type":"nominal"}}},
 {"width":220,"height":155,"data":{"name":"a3"},"mark":{"type":"line","clip":true,"strokeWidth":1.4},"encoding":{"x":{"field":"x","type":"quantitative","scale":{"domain":[0,90]},"axis":{"values":[0,20,40,60,80],"title":"αeq (deg)"}},"y":{"field":"y","type":"quantitative","scale":{"type":"log","domain":[1e-6,1e-3]},"axis":{"values":[1e-6,1e-5,1e-4,1e-3],"labelExpr":"datum.value > 5e-4 ? '10⁻³' : datum.value > 5e-5 ? '10⁻⁴' : datum.value > 5e-6 ? '10⁻⁵' : '10⁻⁶'","title":"|<Dαₚ>| (s⁻¹)","titlePadding":6}},"color":{"field":"s","type":"nominal"},"strokeDash":{"field":"s","type":"nominal"}}},
 {"width":220,"height":155,"data":{"name":"b3"},"mark":{"type":"line","clip":true,"strokeWidth":1.4},"encoding":{"x":{"field":"x","type":"quantitative","scale":{"domain":[0,90]},"axis":{"values":[0,20,40,60,80],"title":"αeq (deg)"}},"y":{"field":"y","type":"quantitative","scale":{"type":"log","domain":[1e-6,1e-3]},"axis":{"values":[1e-6,1e-5,1e-4,1e-3],"labelExpr":"datum.value > 5e-4 ? '10⁻³' : datum.value > 5e-5 ? '10⁻⁴' : datum.value > 5e-6 ? '10⁻⁵' : '10⁻⁶'","title":null}},"color":{"field":"s","type":"nominal"},"strokeDash":{"field":"s","type":"nominal"}}},
 {"width":220,"height":155,"data":{"name":"c3"},"mark":{"type":"line","clip":true,"strokeWidth":1.4},"encoding":{"x":{"field":"x","type":"quantitative","scale":{"domain":[0,90]},"axis":{"values":[0,20,40,60,80],"title":"αeq (deg)"}},"y":{"field":"y","type":"quantitative","scale":{"type":"log","domain":[1e-6,1e-3]},"axis":{"values":[1e-6,1e-5,1e-4,1e-3],"labelExpr":"datum.value > 5e-4 ? '10⁻³' : datum.value > 5e-5 ? '10⁻⁴' : datum.value > 5e-6 ? '10⁻⁵' : '10⁻⁶'","title":null}},"color":{"field":"s","type":"nominal"},"strokeDash":{"field":"s","type":"nominal"}}},
 {"width":220,"height":155,"data":{"name":"d3"},"mark":{"type":"line","clip":true,"strokeWidth":1.4},"encoding":{"x":{"field":"x","type":"quantitative","scale":{"domain":[0,90]},"axis":{"values":[0,20,40,60,80],"title":"αeq (deg)"}},"y":{"field":"y","type":"quantitative","scale":{"type":"log","domain":[1e-6,1e-3]},"axis":{"values":[1e-6,1e-5,1e-4,1e-3],"labelExpr":"datum.value > 5e-4 ? '10⁻³' : datum.value > 5e-5 ? '10⁻⁴' : datum.value > 5e-6 ? '10⁻⁵' : '10⁻⁶'","title":null}},"color":{"field":"s","type":"nominal"},"strokeDash":{"field":"s","type":"nominal"}}}
]
}
